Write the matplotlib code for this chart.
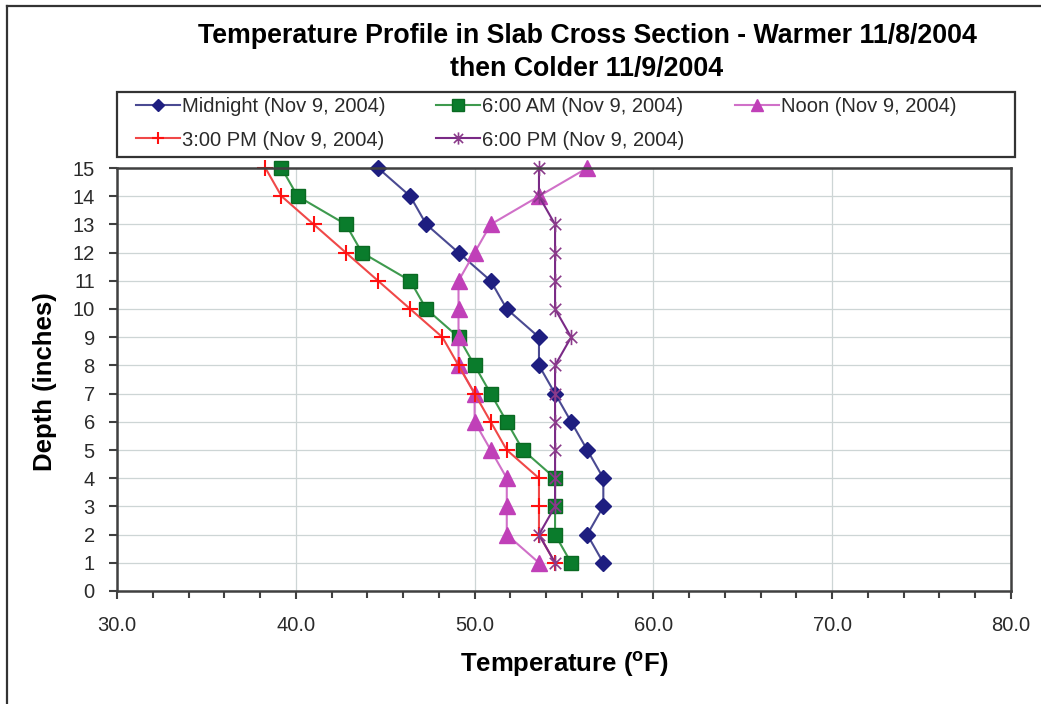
import matplotlib
matplotlib.use('Agg')
import matplotlib.pyplot as plt
from matplotlib.lines import Line2D
from matplotlib.patches import Rectangle
from matplotlib.path import Path
from matplotlib.ticker import MultipleLocator

plt.rcParams['font.family'] = ['Liberation Sans', 'DejaVu Sans']
plt.rcParams['mathtext.fontset'] = 'custom'
plt.rcParams['mathtext.rm'] = 'Liberation Sans'
plt.rcParams['mathtext.bf'] = 'Liberation Sans:bold'

# ---- data ----
depth = [15, 14, 13, 12, 11, 10, 9, 8, 7, 6, 5, 4, 3, 2, 1]
midnight = [44.6, 46.4, 47.3, 49.1, 50.9, 51.8, 53.6, 53.6, 54.5, 55.4, 56.3, 57.2, 57.2, 56.3, 57.2]
am6 = [39.2, 40.1, 42.8, 43.7, 46.4, 47.3, 49.1, 50.0, 50.9, 51.8, 52.7, 54.5, 54.5, 54.5, 55.4]
noon = [56.3, 53.6, 50.9, 50.0, 49.1, 49.1, 49.1, 49.1, 50.0, 50.0, 50.9, 51.8, 51.8, 51.8, 53.6]
pm3 = [38.3, 39.2, 41.0, 42.8, 44.6, 46.4, 48.2, 49.1, 50.0, 50.9, 51.8, 53.6, 53.6, 53.6, 54.5]
pm6 = [53.6, 53.6, 54.5, 54.5, 54.5, 54.5, 55.4, 54.5, 54.5, 54.5, 54.5, 54.5, 54.5, 53.6, 54.5]
series_labels = ["Midnight (Nov 9, 2004)", "6:00 AM (Nov 9, 2004)", "Noon (Nov 9, 2004)",
                 "3:00 PM (Nov 9, 2004)", "6:00 PM (Nov 9, 2004)"]
xticks = [30, 40, 50, 60, 70, 80]
xticklabels = ["30.0", "40.0", "50.0", "60.0", "70.0", "80.0"]
yticks = list(range(0, 16))
title1 = "Temperature Profile in Slab Cross Section - Warmer 11/8/2004"
title2 = "then Colder 11/9/2004"

W, H = 1041, 704
fig = plt.figure(figsize=(W / 100, H / 100), dpi=100)
fig.patch.set_facecolor('white')

L, R, T, B = 117, 1011, 168, 591
ax = fig.add_axes([L / W, 1 - B / H, (R - L) / W, (B - T) / H])

# Excel-style asterisk: X with a vertical bar
ast = Path([(0, -1), (0, 1), (-0.75, -0.75), (0.75, 0.75), (-0.75, 0.75), (0.75, -0.75)],
           [Path.MOVETO, Path.LINETO, Path.MOVETO, Path.LINETO, Path.MOVETO, Path.LINETO])

styles = [
    dict(color='#4A4A92', marker='D', markersize=8, markerfacecolor='#1E1E80', markeredgecolor='#1E1E80'),
    dict(color='#3E9A4E', marker='s', markersize=10.5, markerfacecolor='#0A7C2C', markeredgecolor='#0A6A22'),
    dict(color='#D070C8', marker='^', markersize=11, markerfacecolor='#C040B8', markeredgecolor='#C040B8'),
    dict(color='#F04848', marker='+', markersize=11, markeredgecolor='#FF1010', markeredgewidth=1.5),
    dict(color='#7A2A86', marker=ast, markersize=11, markerfacecolor='none',
         markeredgecolor='#8A3A8A', markeredgewidth=1.2),
]
data = [midnight, am6, noon, pm3, pm6]
handles = []
for vals, st, lab in zip(data, styles, series_labels):
    h, = ax.plot(vals, depth, lw=1.5, label=lab, clip_on=False, **st)
    handles.append(h)

ax.set_xlim(30, 80)
ax.set_ylim(0, 15)
ax.set_xticks(xticks)
ax.set_xticklabels(xticklabels)
ax.xaxis.set_minor_locator(MultipleLocator(2))
ax.set_yticks(yticks)
ax.grid(True, which='major', color='#CDD5D5', lw=0.9)
ax.set_axisbelow(True)
for s in ax.spines.values():
    s.set_color('#404040')
    s.set_linewidth(1.8)
ax.tick_params(axis='both', which='both', direction='out', length=6, width=1.5,
               color='#404040', labelsize=14.5, labelcolor='#2a2a2a', pad=10)
ax.tick_params(axis='x', which='both', pad=12)
ax.tick_params(axis='x', which='minor', length=5)

# titles and axis labels
fig.text(587 / W, 1 - 43 / H, title1, ha='center', va='baseline', fontsize=19.3, fontweight='bold')
fig.text(587 / W, 1 - 76 / H, title2, ha='center', va='baseline', fontsize=19.3, fontweight='bold')
fig.text(564 / W, 1 - 672 / H, r'Temperature ($^{\mathbf{o}}$F)', ha='center', va='baseline',
         fontsize=18.5, fontweight='bold')
fig.text(45 / W, 1 - 382 / H, 'Depth (inches)', ha='center', va='center', rotation=90,
         fontsize=18.5, fontweight='bold')

# legend box
fig.patches.append(Rectangle((117 / W, 1 - 157 / H), (1015 - 117) / W, (157 - 92) / H,
                             transform=fig.transFigure, fill=False, edgecolor='#333333', lw=1.6))
order = [0, 3, 1, 4, 2]
leg = fig.legend([handles[i] for i in order], [series_labels[i] for i in order],
                 loc='upper left', bbox_to_anchor=(136 / W, 1 - 97 / H), ncol=3,
                 frameon=False, fontsize=14.5, handlelength=2.2, handletextpad=0.1,
                 columnspacing=2.5, labelspacing=0.72, borderpad=0, borderaxespad=0,
                 markerscale=0.8)
for t in leg.get_texts():
    t.set_color('#2a2a2a')

# outer border
fig.add_artist(Line2D([7 / W, 7 / W], [0, 1 - 6 / H], transform=fig.transFigure, color='#333333', lw=1.6))
fig.add_artist(Line2D([7 / W, 1], [1 - 6 / H, 1 - 6 / H], transform=fig.transFigure, color='#333333', lw=1.6))

fig.savefig('out.png', dpi=100)
